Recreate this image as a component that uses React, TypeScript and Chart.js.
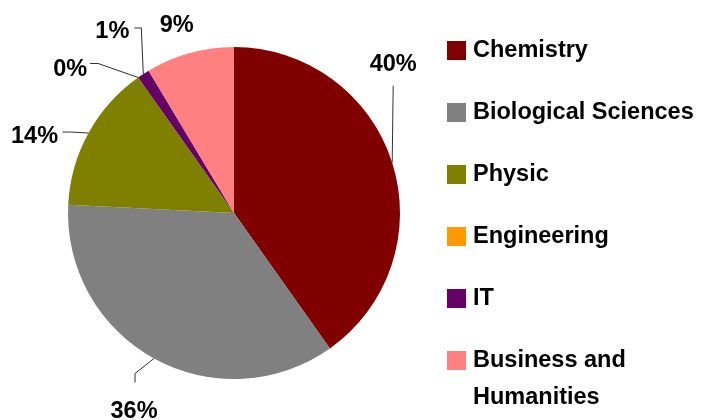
import React, { useEffect, useRef } from "react";
import { Chart, registerables } from "chart.js";

Chart.register(...registerables);

const categories = ["Chemistry", "Biological Sciences", "Physic", "Engineering", "IT", "Business and Humanities"];
const legendLines = [["Chemistry"], ["Biological Sciences"], ["Physic"], ["Engineering"], ["IT"], ["Business and", "Humanities"]];
const shares = [40.2, 35.6, 14.4, 0.0, 1.2, 8.6];
const colors = ["#800000", "#808080", "#808000", "#FF9900", "#660066", "#FF8080"];

// label placement (style): offset from slice anchor, leader elbow and end relative to label centre
const labelOffsets = [[1, -99], [-20, 52], [-54, 2], [-68, -9], [-31, -43], [-13, -29]];
const leaderElbows: (number[] | null)[] = [null, [1, -37], [36, -3], [28, -5], [29, -3], null];
const leaderEnds: (number[] | null)[] = [[0, 22], [1, -28], [28, -3], [20, -5], [22, -3], null];

const FONT = "bold 23.5px 'Liberation Sans', Arial, sans-serif";

const labelPlugin = {
  id: "customLabels",
  afterDraw(chart: any) {
    const ctx = chart.ctx;
    const meta = chart.getDatasetMeta(0);
    const data = chart.data.datasets[0].data as number[];
    const total = data.reduce((a: number, b: number) => a + b, 0);
    ctx.save();
    ctx.font = FONT;
    ctx.textAlign = "center";
    ctx.textBaseline = "middle";
    meta.data.forEach((arc: any, i: number) => {
      const mid = (arc.startAngle + arc.endAngle) / 2;
      const ax = arc.x + Math.cos(mid) * arc.outerRadius;
      const ay = arc.y + Math.sin(mid) * arc.outerRadius;
      const lx = ax + labelOffsets[i][0];
      const ly = ay + labelOffsets[i][1];
      const end = leaderEnds[i];
      if (end) {
        ctx.beginPath();
        ctx.strokeStyle = "#303030";
        ctx.lineWidth = 1;
        ctx.moveTo(ax, ay);
        const el = leaderElbows[i];
        if (el) ctx.lineTo(lx + el[0], ly + el[1]);
        ctx.lineTo(lx + end[0], ly + end[1]);
        ctx.stroke();
      }
      ctx.fillStyle = "#000";
      ctx.fillText(Math.round((data[i] / total) * 100) + "%", lx, ly + 1);
    });
    // legend
    const lgX = 447;
    const lgY = 50;
    const step = 62;
    ctx.textAlign = "left";
    legendLines.forEach((lines, i) => {
      const y = lgY + i * step;
      ctx.fillStyle = colors[i];
      ctx.fillRect(lgX, y - 9, 19, 19);
      ctx.fillStyle = "#000";
      lines.forEach((t, j) => ctx.fillText(t, lgX + 26, y + 1 + j * 37));
    });
    ctx.restore();
  },
};

export default function App() {
  const ref = useRef<HTMLCanvasElement>(null);
  useEffect(() => {
    document.body.style.margin = "0";
    const chart = new Chart(ref.current!, {
      type: "pie",
      data: {
        labels: categories,
        datasets: [{ data: shares, backgroundColor: colors, borderWidth: 0 }],
      },
      options: {
        animation: false,
        responsive: false,
        layout: { padding: { left: 68, right: 308, top: 47, bottom: 41 } },
        plugins: { legend: { display: false }, tooltip: { enabled: false } },
      },
      plugins: [labelPlugin],
    });
    return () => chart.destroy();
  }, []);
  return (
    <div style={{ width: 708, height: 420, background: "#fff" }}>
      <canvas ref={ref} width={708} height={420} />
    </div>
  );
}
